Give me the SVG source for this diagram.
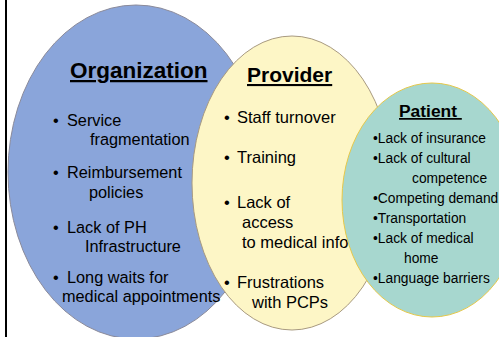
<svg xmlns="http://www.w3.org/2000/svg" width="499" height="337" viewBox="0 0 499 337">
<style>
text{font-family:"Liberation Sans",Arial,sans-serif;fill:#000}
.t{font-weight:bold;text-decoration:underline}
.o{font-size:16.3px}
.p{font-size:16.5px}
.q{font-size:13.8px}
</style>
<rect x="0" y="0" width="499" height="337" fill="#fff"/>
<rect x="5" y="0" width="2" height="337" fill="#000"/>
<g id="organization">
<ellipse cx="136" cy="172" rx="128" ry="167" fill="#8aa5da" stroke="#8a8a9a" stroke-width="1"/>
<text class="t" x="70" y="78" style="font-size:22.5px">Organization</text>
<g class="o">
<text x="53" y="126">•</text><text x="67" y="126">Service</text>
<text x="90" y="145">fragmentation</text>
<text x="53" y="178">•</text><text x="67" y="178">Reimbursement</text>
<text x="89" y="198">policies</text>
<text x="53" y="233">•</text><text x="67" y="233">Lack of PH</text>
<text x="85" y="252">Infrastructure</text>
<text x="53" y="283">•</text><text x="67" y="283">Long waits for</text>
<text x="62" y="302">medical appointments</text>
</g>
</g>
<g id="provider">
<ellipse cx="292" cy="183" rx="100" ry="147" fill="#fdf6c6" stroke="#a89a80" stroke-width="1"/>
<text class="t" x="247" y="82" style="font-size:21px">Provider</text>
<g class="p">
<text x="224" y="123">•</text><text x="237" y="123">Staff turnover</text>
<text x="224" y="163">•</text><text x="237" y="163">Training</text>
<text x="224" y="208">•</text><text x="237" y="208">Lack of</text>
<text x="242" y="228">access</text>
<text x="242" y="248">to medical info</text>
<text x="224" y="288">•</text><text x="237" y="288">Frustrations</text>
<text x="252" y="308">with PCPs</text>
</g>
</g>
<g id="patient">
<ellipse cx="432" cy="200" rx="90" ry="117" fill="#a7d7cf" stroke="#e6c84a" stroke-width="1"/>
<text class="t" x="399" y="117" style="font-size:17.4px">Patient&#160;</text>
<g class="q">
<text x="373" y="143">•Lack of insurance</text>
<text x="373" y="163">•Lack of cultural</text>
<text x="412" y="183">competence</text>
<text x="373" y="203">•Competing demand</text>
<text x="373" y="223">•Transportation</text>
<text x="373" y="243">•Lack of medical</text>
<text x="404" y="263">home</text>
<text x="373" y="283">•Language barriers</text>
</g>
</g>
<g id="connectors"/>
</svg>
